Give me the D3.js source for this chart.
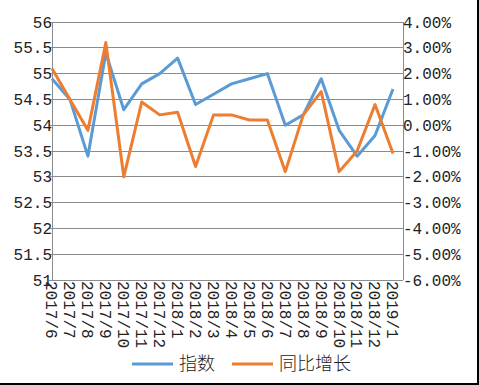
<!DOCTYPE html>
<html><head><meta charset="utf-8">
<script src="https://cdn.jsdelivr.net/npm/d3@7"></script>
<style>body{margin:0;background:#fff}svg{display:block}</style>
</head><body>
<svg id="c" width="479" height="385"></svg>
<script>
const categories = ["2017/6","2017/7","2017/8","2017/9","2017/10","2017/11","2017/12","2018/1","2018/2","2018/3","2018/4","2018/5","2018/6","2018/7","2018/8","2018/9","2018/10","2018/11","2018/12","2019/1"];
const indexValues = [54.9,54.5,53.4,55.4,54.3,54.8,55.0,55.3,54.4,54.6,54.8,54.9,55.0,54.0,54.2,54.9,53.9,53.4,53.8,54.7];
const yoyValues = [2.2,1.0,-0.2,3.2,-2.0,0.9,0.4,0.5,-1.6,0.4,0.4,0.2,0.2,-1.8,0.4,1.3,-1.8,-1.0,0.8,-1.1];
const leftTicks = [51,51.5,52,52.5,53,53.5,54,54.5,55,55.5,56];
const rightTicks = [-6,-5,-4,-3,-2,-1,0,1,2,3,4];
const seriesNames = ["指数","同比增长"];
const colors = ["#5B9BD5","#ED7D31"];

const svg = d3.select("#c");
const L = 52, R = 403, T = 22, B = 280;
const x = d3.scalePoint().domain(categories).range([52, 393]);
const yL = d3.scaleLinear().domain([51,56]).range([B,T]);
const yR = d3.scaleLinear().domain([-6,4]).range([B,T]);
const mono = "'Liberation Mono','DejaVu Sans Mono',monospace";

svg.append("g").selectAll("line").data(leftTicks).join("line")
  .attr("x1",L-3).attr("x2",R).attr("y1",d=>yL(d)).attr("y2",d=>yL(d))
  .attr("stroke","#8c8c8c").attr("stroke-width",1).attr("shape-rendering","crispEdges");

svg.append("line").attr("x1",L).attr("x2",L).attr("y1",T).attr("y2",B).attr("stroke","#8c8c8c").attr("shape-rendering","crispEdges");
svg.append("line").attr("x1",R).attr("x2",R).attr("y1",T).attr("y2",B).attr("stroke","#8c8c8c").attr("shape-rendering","crispEdges");

svg.append("g").selectAll("text").data(leftTicks).join("text")
  .attr("x",L).attr("y",d=>yL(d)).attr("dy","0.35em").attr("text-anchor","end")
  .attr("font-family",mono).attr("font-size",16).attr("fill","#222")
  .text(d=>d3.format("")(d));

svg.append("g").selectAll("text").data(rightTicks).join("text")
  .attr("x",R).attr("y",d=>yR(d)).attr("dy","0.35em").attr("text-anchor","start")
  .attr("font-family",mono).attr("font-size",16).attr("fill","#222")
  .text(d=>(d<0?"-":"")+d3.format(".2f")(Math.abs(d))+"%");

svg.append("g").selectAll("text").data(categories).join("text")
  .attr("transform",d=>`translate(${x(d)},${B+1}) rotate(90)`)
  .attr("dy","0.35em").attr("text-anchor","start")
  .attr("font-family",mono).attr("font-size",16).attr("fill","#222")
  .text(d=>d);

const lineL = d3.line().x((d,i)=>x(categories[i])).y(d=>yL(d));
const lineR = d3.line().x((d,i)=>x(categories[i])).y(d=>yR(d));
svg.append("path").datum(indexValues).attr("d",lineL).attr("fill","none")
  .attr("stroke",colors[0]).attr("stroke-width",3).attr("stroke-linejoin","round");
svg.append("path").datum(yoyValues).attr("d",lineR).attr("fill","none")
  .attr("stroke",colors[1]).attr("stroke-width",3).attr("stroke-linejoin","round");

const leg = [{x:132,name:seriesNames[0],c:colors[0]},{x:232,name:seriesNames[1],c:colors[1]}];
const lg = svg.append("g");
leg.forEach(l=>{
  lg.append("line").attr("x1",l.x).attr("x2",l.x+41).attr("y1",364).attr("y2",364)
    .attr("stroke",l.c).attr("stroke-width",3);
  lg.append("text").attr("x",l.x+47).attr("y",364).attr("dy","0.35em")
    .attr("font-family","'Noto Sans CJK SC',sans-serif").attr("font-size",18).attr("font-weight",300).attr("fill","#222")
    .text(l.name);
});

svg.append("line").attr("x1",0).attr("x2",479).attr("y1",384).attr("y2",384).attr("stroke","#000").attr("stroke-width",2);
svg.append("line").attr("x1",478).attr("x2",478).attr("y1",0).attr("y2",385).attr("stroke","#000").attr("stroke-width",2);
</script>
</body></html>
